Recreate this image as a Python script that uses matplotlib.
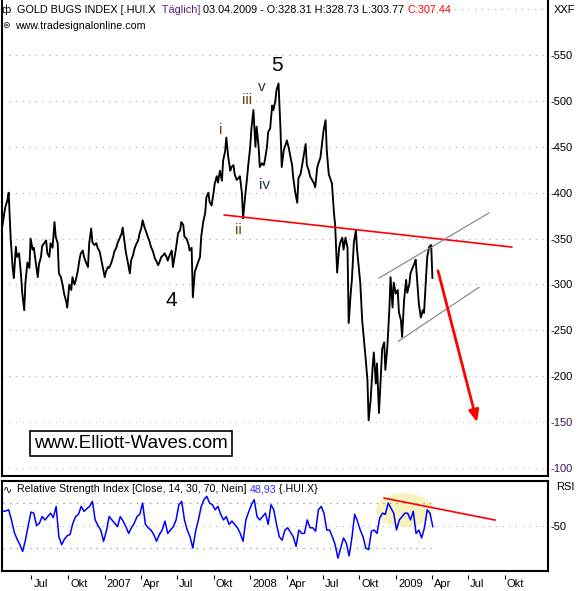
import matplotlib
matplotlib.use("Agg")
import matplotlib.pyplot as plt
import matplotlib.dates as mdates
import matplotlib.transforms as mtransforms
from matplotlib.patches import Ellipse
import pandas as pd

plt.rcParams["font.family"] = ["Liberation Sans", "DejaVu Sans"]

# closes, every 3rd trading day from 2006-04-19
first_day = "2006-04-19"
hui_close = [
    363, 378, 385, 392, 400, 350, 318, 307, 341, 330,
    334, 310, 291, 272, 302, 324, 318, 350, 338, 340,
    324, 308, 322, 330, 342, 345, 348, 334, 330, 345,
    340, 368, 352, 345, 312, 308, 298, 290, 282, 275,
    300, 294, 308, 300, 304, 314, 328, 334, 337, 330,
    324, 319, 345, 361, 346, 343, 345, 340, 336, 330,
    319, 308, 314, 319, 318, 323, 330, 336, 340, 345,
    350, 355, 362, 345, 335, 324, 312, 326, 332, 338,
    344, 348, 355, 362, 370, 362, 356, 352, 346, 341,
    336, 328, 326, 321, 324, 330, 332, 334, 330, 326,
    332, 337, 319, 332, 340, 356, 359, 368, 365, 352,
    350, 344, 337, 340, 286, 314, 320, 324, 330, 352,
    368, 378, 395, 400, 390, 386, 400, 410, 418, 411,
    424, 413, 435, 445, 460, 438, 424, 428, 430, 420,
    414, 416, 418, 400, 372, 395, 416, 430, 450, 470,
    490, 450, 472, 450, 428, 432, 430, 436, 450, 466,
    470, 495, 490, 500, 512, 519, 468, 428, 446, 450,
    457, 448, 441, 430, 416, 400, 389, 416, 420, 427,
    440, 453, 430, 424, 418, 414, 410, 406, 427, 432,
    438, 457, 468, 479, 446, 420, 414, 410, 378, 365,
    313, 340, 346, 351, 338, 351, 340, 258, 290, 305,
    346, 359, 338, 316, 302, 260, 237, 222, 196, 152,
    174, 210, 226, 192, 214, 160, 203, 230, 237, 207,
    232, 273, 308, 275, 302, 290, 294, 270, 261, 243,
    283, 305, 291, 300, 312, 318, 323, 327, 297, 279,
    264, 272, 269, 308, 330, 341, 343, 307,
]

# weekly RSI(14) values, Fridays from 2006-04-21
first_week = "2006-04-21"
rsi_values = [
    62.6, 63, 64, 55, 44, 38, 33, 27, 37, 50,
    62, 61, 50, 52, 58, 55, 58, 61, 57, 67,
    40, 33, 38, 41, 42, 52, 58, 60, 67, 62.6,
    65, 67, 71.5, 55, 50, 46, 36, 45, 58, 55,
    52, 49, 58, 54, 49, 43, 48, 52, 58, 60,
    70, 51, 48, 46, 42, 36, 42, 46, 54, 43,
    46, 49, 55, 68.5, 71.5, 55, 46, 40, 30, 45,
    55, 67, 73, 76, 70, 68.5, 64, 67, 60, 55,
    58, 51, 54, 51, 48, 43, 36, 55, 62, 68.5,
    73, 58, 55, 58, 61, 51, 68.5, 64, 51, 40,
    37, 46, 48, 44, 40, 31.5, 46, 43, 43, 55,
    48, 48, 45, 64, 67, 61, 46, 46, 40, 33,
    21, 30, 39, 34.5, 23, 39, 60, 54, 46, 40,
    30, 28.5, 45, 46, 43, 57, 61, 60, 70, 65.5,
    61, 46, 55, 58, 61, 61, 55, 62.6, 43, 46,
    39, 48, 64, 61, 49,
]

price_levels = [100, 150, 200, 250, 300, 350, 400, 450, 500, 550]
month_ticks = ["2006-07-01", "2006-10-01", "2007-01-01", "2007-04-01", "2007-07-01",
               "2007-10-01", "2008-01-01", "2008-04-01", "2008-07-01", "2008-10-01",
               "2009-01-01", "2009-04-01", "2009-07-01", "2009-10-01"]
month_labels = ["Jul", "Okt", "2007", "Apr", "Jul", "Okt", "2008", "Apr", "Jul", "Okt",
                "2009", "Apr", "Jul", "Okt"]

# hand drawn lines (date, value)
resistance = [("2007-10-28", 375.7), ("2009-10-18", 340.8)]
channel_top = [("2008-11-19", 307), ("2009-08-22", 378)]
channel_bottom = [("2009-01-06", 238), ("2009-07-28", 297)]
target_arrow = [("2009-04-16", 315), ("2009-07-23", 150)]
rsi_trend = [("2008-12-02", 74.4), ("2009-09-06", 54.9)]

waves = [("5", "2008-03-09", 539), ("4", "2007-06-17", 283)]
sub_waves = [("i", "2007-10-20", 468, "#6a4410"), ("ii", "2007-12-02", 359, "#6a4410"),
             ("iii", "2007-12-24", 501, "#6a4410"), ("iv", "2008-02-07", 408, "#203a5a"),
             ("v", "2008-01-31", 515, "#203a5a")]

W, H = 584, 591
d = mdates.datestr2num


def chain_text(fig, x, y, pieces, **kw):
    renderer = fig.canvas.get_renderer()
    for s, color in pieces:
        t = fig.text(x, y, s, color=color, **kw)
        x += t.get_window_extent(renderer).width / fig.bbox.width


fig = plt.figure(figsize=(W / 100, H / 100), dpi=100)
ax = fig.add_axes([1.5 / W, 1 - 476 / H, 546.5 / W, 476 / H])
ax_rsi = fig.add_axes([1.5 / W, 1 - 571 / H, 546.5 / W, 90 / H], sharex=ax)

pdates = mdates.date2num(pd.date_range(first_day, periods=len(hui_close), freq="3B"))
wdates = mdates.date2num(pd.date_range(first_week, periods=len(rsi_values), freq="7D"))

# --- price panel
for lvl in price_levels:
    col = "#9fd09f" if lvl <= 150 else "#a8a8a8"
    ax.axhline(lvl, color=col, lw=0.8, ls=(0, (1, 5)), zorder=0)
ax.axhline(600, xmin=0.817, color="#a8a8a8", lw=0.8, ls=(0, (1, 5)), zorder=0)

ax.plot(pdates, hui_close, color="black", lw=1.35, zorder=3)

for pts, col, lw in [(resistance, "red", 1.2), (channel_top, "#808080", 0.8),
                     (channel_bottom, "#808080", 0.8)]:
    ax.plot([d(p[0]) for p in pts], [p[1] for p in pts], color=col, lw=lw, zorder=4)

ax.annotate("", xy=(d(target_arrow[1][0]), target_arrow[1][1]),
            xytext=(d(target_arrow[0][0]), target_arrow[0][1]),
            arrowprops=dict(arrowstyle="-|>,head_length=0.7,head_width=0.3",
                            color="red", lw=2, shrinkA=0, shrinkB=0), zorder=5)

for lab, dt, val in waves:
    ax.text(d(dt), val, lab, fontsize=15, ha="center", va="center", color="black")
for lab, dt, val, col in sub_waves:
    ax.text(d(dt), val, lab, fontsize=11, ha="center", va="center", color=col)

ax.set_xlim(d("2006-04-17"), d("2010-01-17"))
ax.set_ylim(91.4, 609.9)
ax.yaxis.tick_right()
ax.set_yticks(price_levels)
ax.set_yticklabels([f"-{v}" for v in price_levels])
ax.tick_params(axis="y", length=0, pad=2, labelsize=8)
ax.tick_params(axis="x", bottom=False, labelbottom=False)
for lab in ax.get_yticklabels()[:2]:
    lab.set_color("#3a1060")
ax.spines["top"].set_visible(False)
for s in ["left", "right", "bottom"]:
    ax.spines[s].set_linewidth(1.5)

# --- RSI panel
ax_rsi.add_patch(Ellipse((d("2009-01-22"), 63.8), width=143, height=30,
                         facecolor="#f6f3bf", edgecolor="none", zorder=0))
ax_rsi.axhline(50, color="#b0b0b0", lw=0.8, ls=(0, (1, 5)), zorder=0)
for lvl in [70, 30]:
    ax_rsi.plot([wdates[0], wdates[-1]], [lvl, lvl], color="#808080", lw=0.8,
                ls=(0, (1, 5)), zorder=1)
ax_rsi.plot(wdates, rsi_values, color="#0000ff", lw=1.1, zorder=3)
ax_rsi.plot([d(p[0]) for p in rsi_trend], [p[1] for p in rsi_trend], color="red", lw=1.2, zorder=4)

ax_rsi.set_ylim(9.6, 89.6)
ax_rsi.yaxis.tick_right()
ax_rsi.set_yticks([50])
ax_rsi.set_yticklabels(["-50"])
ax_rsi.tick_params(axis="y", length=0, pad=2, labelsize=8)

tick_nums = [d(t) for t in month_ticks]
ax_rsi.set_xticks(tick_nums)
ax_rsi.set_xticklabels(month_labels)
ax_rsi.tick_params(axis="x", length=0, pad=6, labelsize=8)
shift = mtransforms.ScaledTranslation(2 / 100, 0, fig.dpi_scale_trans)
for lab in ax_rsi.get_xticklabels():
    lab.set_ha("left")
    lab.set_transform(lab.get_transform() + shift)
ax_rsi.plot(tick_nums, [-0.072] * len(tick_nums), transform=ax_rsi.get_xaxis_transform(),
            ls="none", marker="|", ms=3, mew=0.8, color="black", clip_on=False)
ax_rsi.set_xlim(d("2006-04-17"), d("2010-01-17"))
for s in ax_rsi.spines.values():
    s.set_linewidth(1.5)

# --- header texts
fig.text(6 / W, 1 - 10 / H, "ф", fontsize=8, ha="center", va="center")
chain_text(fig, 17 / W, 1 - 10 / H,
           [("GOLD BUGS INDEX [.HUI.X", "black"), ("  Täglich]", "#5b1f7a"),
            (" 03.04.2009 - O:328.31 H:328.73 L:303.77 ", "black"), ("C:307.44", "red")],
           fontsize=7.8, va="center")
fig.text(6 / W, 1 - 26 / H, "⊜", fontsize=6.5, ha="center", va="center")
fig.text(15 / W, 1 - 26 / H, "www.tradesignalonline.com", fontsize=7.7, va="center")
fig.text(554 / W, 1 - 10 / H, "XXF", fontsize=8, va="center")

fig.text(7 / W, 1 - 489 / H, "∿", fontsize=8, ha="center", va="center")
chain_text(fig, 17 / W, 1 - 489 / H,
           [("Relative Strength Index [Close, 14, 30, 70, Nein] ", "black"),
            ("48,93", "#3030ff"), (" {.HUI.X}", "black")],
           fontsize=7.7, va="center")
fig.text(556 / W, 1 - 487 / H, "RSI", fontsize=8, va="center")

fig.text(130.5 / W, 1 - 443.5 / H, "www.Elliott-Waves.com", fontsize=13.5,
         ha="center", va="center",
         bbox=dict(boxstyle="square,pad=0.22", fc="white", ec="black", lw=1.2))

fig.savefig("out.png", dpi=100)
